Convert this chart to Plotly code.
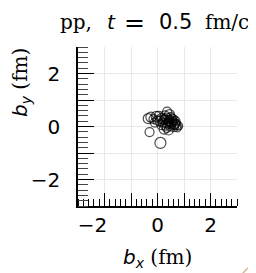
import plotly.graph_objects as go

bx = [-0.35, -0.25, -0.15, -0.05, 0.05, 0.15, 0.25, 0.35, 0.45, 0.55, 0.65, 0.72, 0.80, 0.60, 0.50,
      0.40, 0.30, 0.20, 0.10, 0.00, -0.30, 0.11, 0.36, 0.45, 0.55, 0.68, 0.75, 0.25, 0.35, 0.48,
      0.62, 0.28, 0.15, -0.10, 0.42, 0.38, 0.52, 0.58, 0.33, 0.44, 0.62, 0.70, 0.27, 0.48]
by = [0.30, 0.35, 0.28, 0.38, 0.40, 0.30, 0.25, 0.32, 0.20, 0.15, 0.10, 0.05, 0.02, 0.25, 0.35,
      0.10, 0.05, 0.15, 0.20, 0.22, -0.21, -0.62, 0.56, 0.45, 0.30, 0.20, -0.05, -0.10, -0.05, 0.00,
      -0.02, 0.40, 0.05, 0.15, -0.15, 0.18, 0.08, 0.22, 0.12, 0.28, 0.05, 0.12, 0.30, 0.16]
sizes = [10, 10, 9, 10, 9, 10, 9, 10, 9, 9, 10, 9, 8, 10, 9,
         9, 10, 9, 10, 9, 9, 11, 9, 10, 9, 9, 8, 10, 9, 9,
         9, 10, 9, 9, 9, 8, 9, 8, 9, 8, 9, 8, 9, 8]
label_vals = [-2, 0, 2]
x_label_text = ["\u22122\u2003\u2009", "0", "2"]
y_label_text = ["\u22122", "0", "2"]
major_vals = [-3, -2, -1, 0, 1, 2, 3]
title_parts = ["pp,", "<i>t</i>", "=", "0.5", "fm/c"]
x_title = "<i>b<sub>x</sub></i> <span style='font-family:DejaVu Serif'>(fm)</span>"
y_title = "<i>b<sub>y</sub></i> <span style='font-family:DejaVu Serif'>(fm)</span>"

sans = "DejaVu Sans, sans-serif"
serif = "DejaVu Serif, serif"

fig = go.Figure()
fig.add_trace(go.Scatter(
    x=bx, y=by, mode="markers",
    marker=dict(symbol="circle-open", size=sizes, color="black", line=dict(width=1.2, color="black")),
    showlegend=False, cliponaxis=False))

tickfont = dict(family=sans, size=20, color="black")
fig.update_layout(
    xaxis=dict(range=[-3, 3], tickvals=label_vals, ticktext=x_label_text, ticks="", showgrid=False,
               zeroline=False, showline=True, linecolor="black", linewidth=1.5, tickfont=tickfont,
               ticklabelstandoff=0,
               minor=dict(ticks="inside", dtick=0.2, ticklen=7, tickcolor="black", tickwidth=1,
                          showgrid=False)),
    yaxis=dict(range=[-3, 3], tickvals=label_vals, ticktext=y_label_text, ticks="", showgrid=False,
               zeroline=False, showline=True, linecolor="black", linewidth=1.5, tickfont=tickfont,
               ticklabelstandoff=12,
               minor=dict(ticks="inside", dtick=0.2, ticklen=10, tickcolor="#444", tickwidth=1,
                          showgrid=False)),
    # overlay axes: grid and long major ticks at every integer
    xaxis2=dict(range=[-3, 3], overlaying="x", anchor="y", side="bottom", tickvals=major_vals,
                showticklabels=False, ticks="inside", ticklen=13, tickcolor="black", tickwidth=1,
                showgrid=True, gridcolor="#e8e8e8", gridwidth=1, zeroline=False, showline=False),
    yaxis2=dict(range=[-3, 3], overlaying="y", anchor="x", side="left", tickvals=major_vals,
                showticklabels=False, ticks="inside", ticklen=16, tickcolor="black", tickwidth=1,
                showgrid=True, gridcolor="#e8e8e8", gridwidth=1, zeroline=False, showline=False),
)
fig.add_trace(go.Scatter(x=[None], y=[None], xaxis="x2", yaxis="y2", showlegend=False,
                         hoverinfo="skip"))


# page body has an 8px default margin: plot area lands at page x 78..237, y 47..206
def px(x):
    return (x - 78) / 159


def py(y):
    return (206 - y) / 159


def ann(text, x, y, family, size, angle=0):
    return dict(text=text, xref="paper", yref="paper", x=px(x), y=py(y), xanchor="center",
                yanchor="middle", showarrow=False, textangle=angle,
                font=dict(family=family, size=size, color="black"))


fig.update_layout(
    width=248, height=265,
    margin=dict(l=70, r=19, t=39, b=67),
    paper_bgcolor="white", plot_bgcolor="white",
    annotations=[
        ann(title_parts[0], 76, 22, serif, 20),
        ann(title_parts[1], 111.5, 22, sans, 20),
        ann(title_parts[2], 134, 22, sans, 25),
        ann(title_parts[3], 175.5, 22, sans, 21),
        ann(title_parts[4], 227, 22, serif, 20),
        ann(x_title, 157, 258, sans, 20),
        ann(y_title, 21, 83, sans, 20, -90),
    ],
    shapes=[dict(type="path", xref="paper", yref="paper",
                 path="M 1.035,-0.425 Q 1.07,-0.385 1.12,-0.35",
                 line=dict(color="#d8b890", width=1.5))],
)
fig.write_html("out.html")
